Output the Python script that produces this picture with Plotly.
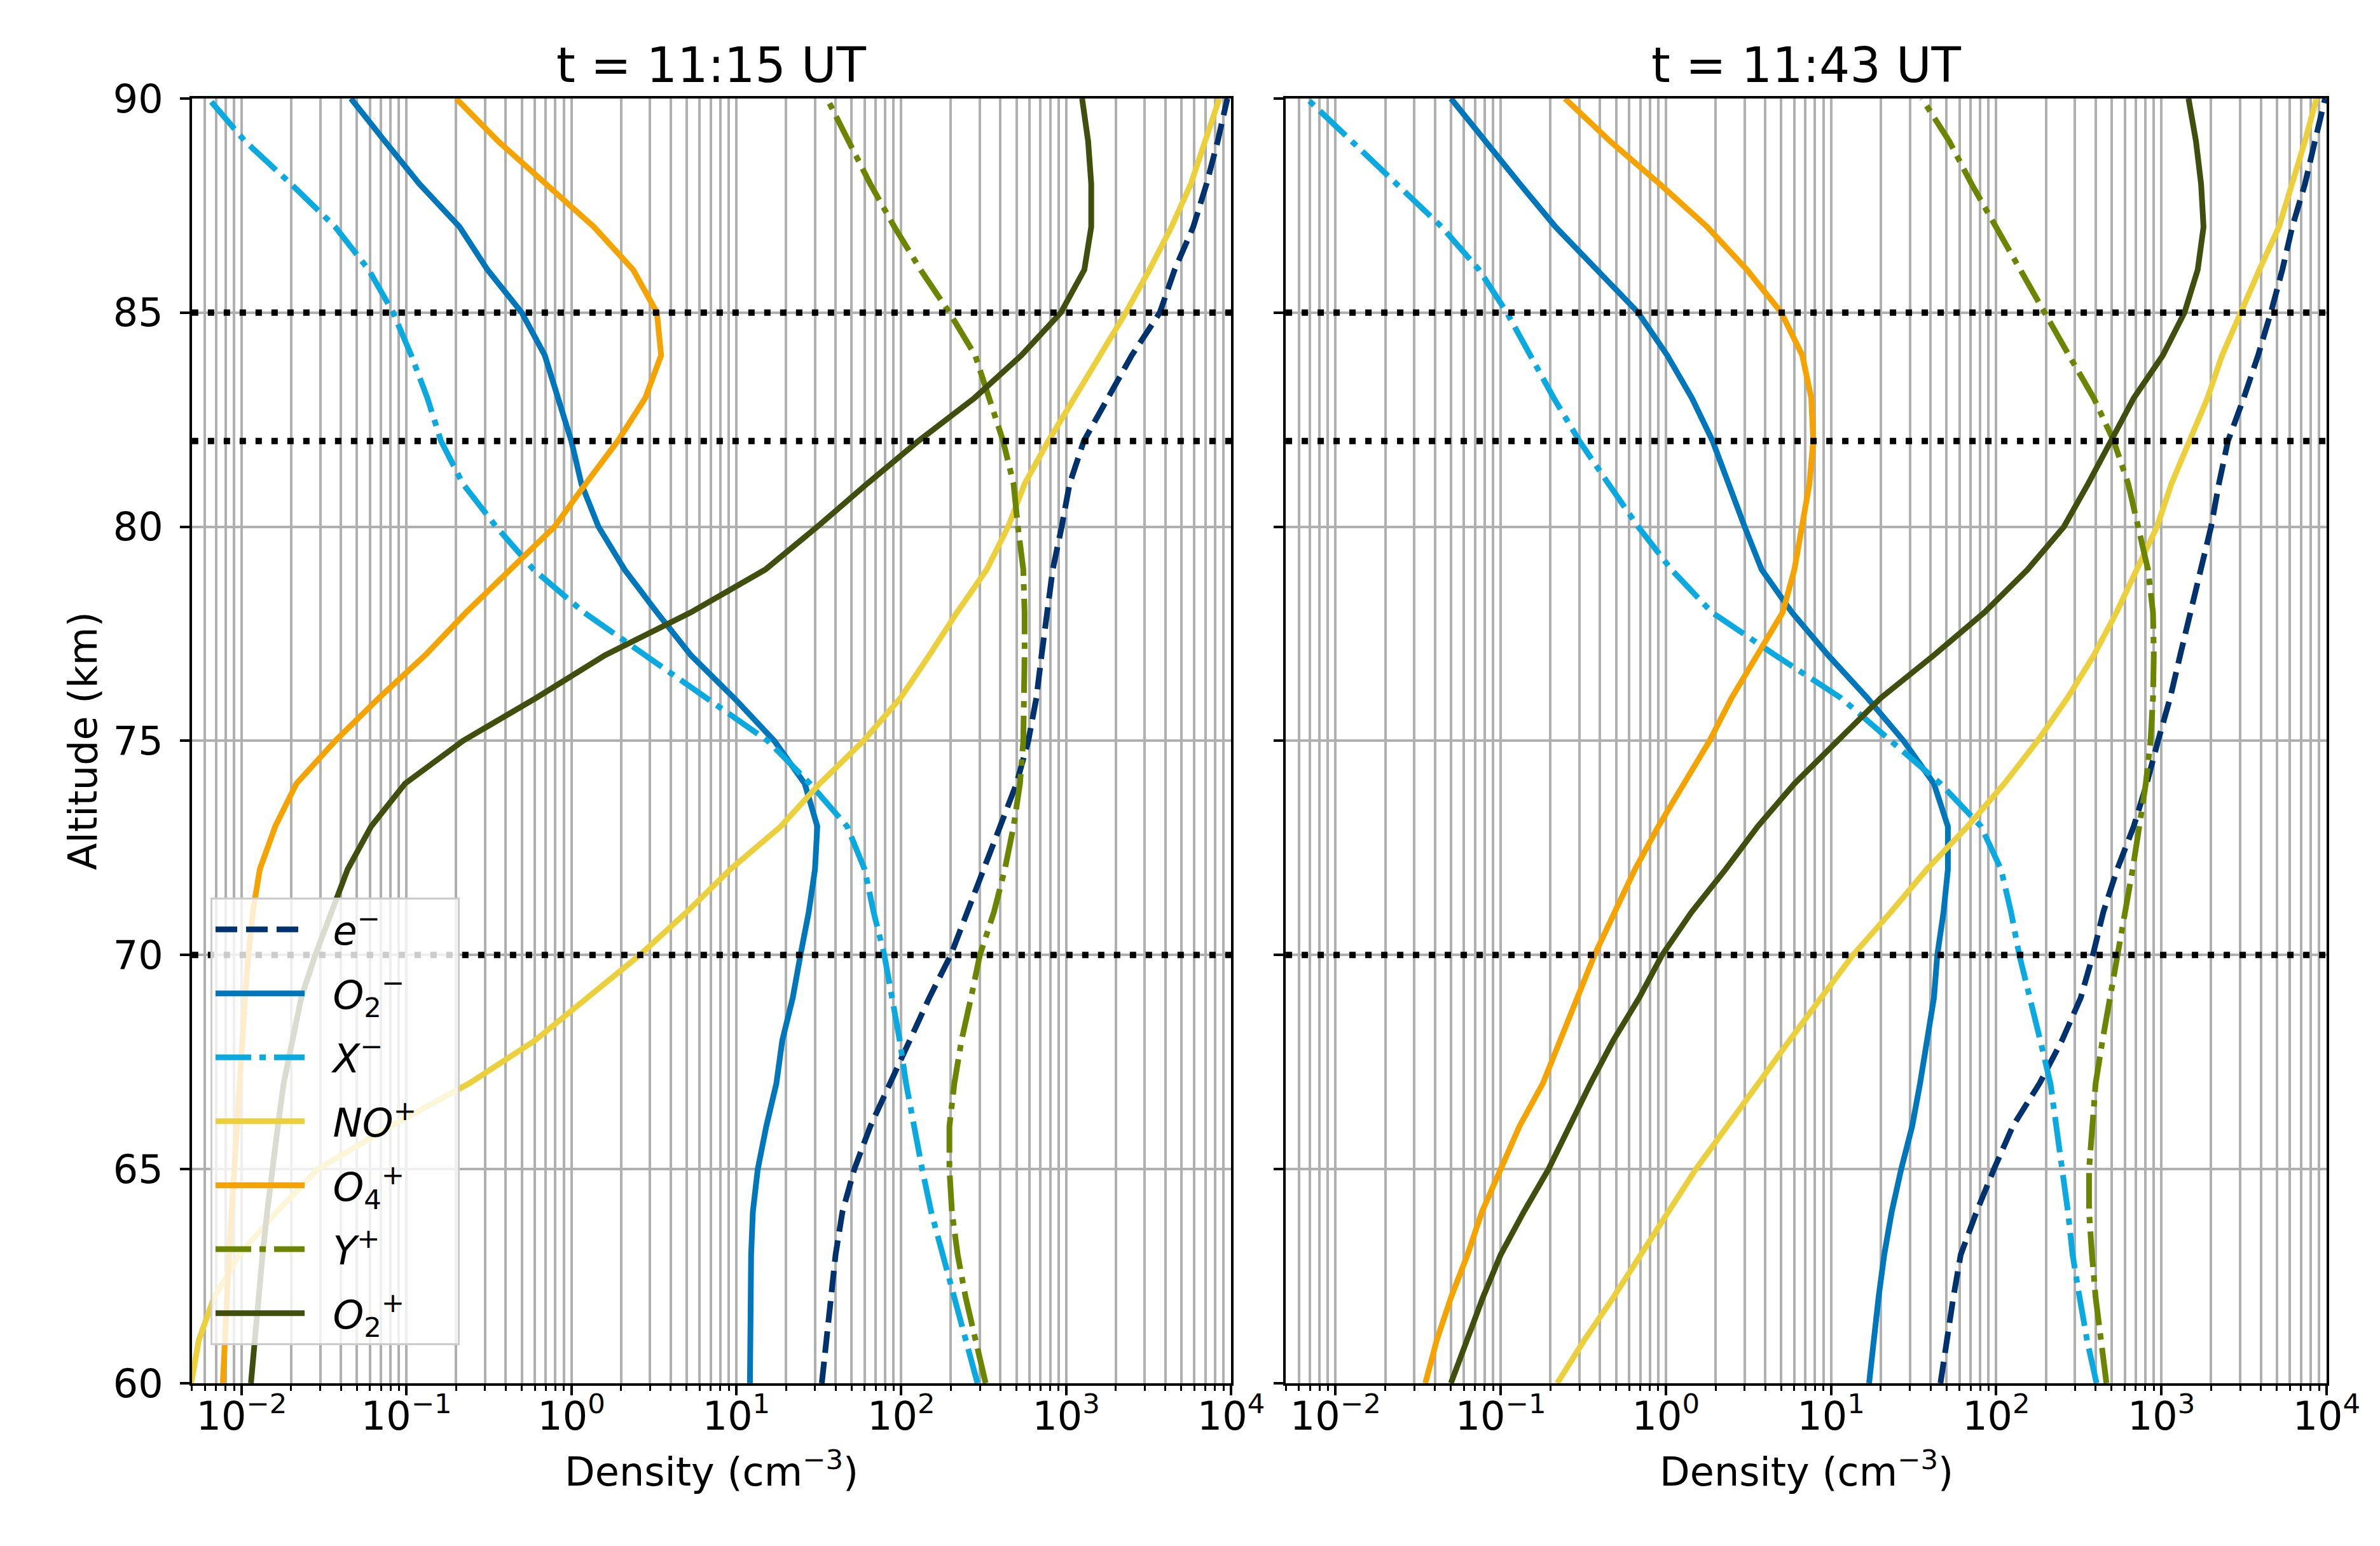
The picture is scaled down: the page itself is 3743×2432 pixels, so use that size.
import plotly.graph_objects as go

# altitude grid (km), 60 -> 90
altitude = list(range(60, 91))

# t = 11:15 UT densities (cm^-3)
e_1115 = [33, 35, 37, 40, 44, 52, 65, 85, 112, 148, 200, 252, 316, 400, 500, 590,
          660, 710, 760, 830, 940, 1050, 1280, 1800, 2500, 3700, 4550, 5900, 7100, 8300, 9500]
o2m_1115 = [12.1, 12.1, 12.2, 12.3, 12.6, 13.5, 15.2, 17.5, 19, 22, 24.5, 27.5, 30, 31, 26, 17,
            9.7, 5.3, 3.3, 2.1, 1.46, 1.15, 1.0, 0.83, 0.69, 0.50, 0.31, 0.21, 0.12, 0.074, 0.046]
xm_1115 = [290, 246, 210, 177, 152, 134, 120, 107, 98, 88, 79, 68, 60, 47, 28, 15.5,
           6.6, 2.74, 1.19, 0.59, 0.35, 0.22, 0.162, 0.134, 0.107, 0.083, 0.059, 0.037, 0.020, 0.0105, 0.0063]
nop_1115 = [0.00495, 0.0055, 0.0068, 0.0097, 0.0163, 0.029, 0.080, 0.24, 0.60, 1.23, 2.6, 5.0, 9.2, 18.6, 32, 59,
            99, 148, 218, 330, 445, 560, 780, 1120, 1600, 2300, 3200, 4350, 5700, 6900, 8500]
o4p_1115 = [0.0077, 0.0079, 0.0081, 0.0084, 0.0087, 0.0090, 0.0093, 0.0097, 0.0101, 0.0105, 0.011, 0.0117,
            0.0129, 0.016, 0.0215, 0.037, 0.068, 0.13, 0.23, 0.43, 0.79, 1.22, 1.91, 2.8, 3.5, 3.3,
            2.37, 1.37, 0.70, 0.36, 0.20]
yp_1115 = [325, 281, 246, 220, 203, 196, 196, 210, 232, 265, 300, 365, 425, 480, 525, 550,
           560, 560, 560, 550, 510, 480, 415, 340, 281, 196, 131, 91, 65, 48, 35.5]
o2p_1115 = [0.0114, 0.0120, 0.0126, 0.0134, 0.0143, 0.0153, 0.0166, 0.018, 0.0203, 0.023, 0.028, 0.035,
            0.044, 0.061, 0.098, 0.22, 0.61, 1.6, 5.3, 15, 31, 62, 127, 277, 535, 930,
            1290, 1420, 1420, 1360, 1250]

# t = 11:43 UT densities (cm^-3)
e_1143 = [46, 50, 55, 61, 76, 97, 126, 183, 250, 325, 385, 445, 540, 680, 815, 955,
          1130, 1300, 1500, 1740, 2000, 2230, 2530, 3150, 3850, 4600, 5400, 6200, 7400, 8500, 9800]
o2m_1143 = [17, 18, 19.4, 21, 23.3, 26.6, 31, 34.6, 38, 42, 44, 48, 51, 51, 42, 27.5,
            16.6, 9.6, 5.8, 3.8, 3.0, 2.4, 1.92, 1.44, 1.02, 0.68, 0.38, 0.215, 0.131, 0.081, 0.050]
xm_1143 = [405, 355, 320, 290, 272, 250, 229, 213, 185, 160, 138, 123, 107, 81, 46, 23,
           11.5, 4.6, 1.9, 1.08, 0.68, 0.45, 0.30, 0.21, 0.153, 0.109, 0.074, 0.044, 0.0235, 0.0126, 0.0067]
nop_1143 = [0.22, 0.32, 0.48, 0.70, 1.03, 1.52, 2.35, 3.6, 5.6, 8.7, 13.6, 23, 38, 67, 112, 178,
            270, 390, 535, 710, 940, 1150, 1490, 1900, 2330, 3000, 3920, 5150, 6200, 7400, 8700]
o4p_1143 = [0.035, 0.041, 0.050, 0.063, 0.077, 0.10, 0.13, 0.18, 0.23, 0.295, 0.37, 0.49, 0.65, 0.90, 1.3, 1.84,
            2.5, 3.6, 5.1, 6.0, 6.7, 7.4, 7.8, 7.6, 6.7, 5.0, 3.1, 1.78, 0.92, 0.46, 0.245]
yp_1143 = [465, 430, 400, 380, 365, 365, 380, 400, 440, 490, 540, 605, 670, 735, 805, 860,
           890, 900, 890, 830, 730, 630, 515, 390, 276, 196, 140, 98, 71, 52, 35.5]
o2p_1143 = [0.050, 0.062, 0.078, 0.10, 0.138, 0.195, 0.26, 0.35, 0.48, 0.69, 0.95, 1.43, 2.3, 3.6, 6.0, 11,
            20, 42, 85, 155, 257, 360, 490, 680, 1020, 1380, 1660, 1800, 1740, 1620, 1460]

panel_titles = ["t = 11:15 UT", "t = 11:43 UT"]
ref_altitudes = [85, 82, 70]

species = [
    ("<i>e</i><sup>−</sup>", "#00336E", "34px,14px"),
    ("<i>O</i><sub>2</sub><sup>−</sup>", "#0077BB", "solid"),
    ("<i>X</i><sup>−</sup>", "#0AAAE0", "56px,13px,10px,13px"),
    ("<i>NO</i><sup>+</sup>", "#EBD03C", "solid"),
    ("<i>O</i><sub>4</sub><sup>+</sup>", "#F5A300", "solid"),
    ("<i>Y</i><sup>+</sup>", "#6B8500", "56px,13px,10px,13px"),
    ("<i>O</i><sub>2</sub><sup>+</sup>", "#404F0E", "solid"),
]
panels = [
    [e_1115, o2m_1115, xm_1115, nop_1115, o4p_1115, yp_1115, o2p_1115],
    [e_1143, o2m_1143, xm_1143, nop_1143, o4p_1143, yp_1143, o2p_1143],
]

FONT = "DejaVu Sans"
LW = 9
NB = "\u00a0"

fig = go.Figure()
for p, series in enumerate(panels):
    xa = "x" if p == 0 else "x2"
    ya = "y" if p == 0 else "y2"
    for (name, color, dash), vals in zip(species, series):
        fig.add_trace(go.Scatter(
            x=vals, y=altitude, mode="lines", name=NB * 2 + name + NB * 3,
            line=dict(color=color, width=LW, dash=dash),
            xaxis=xa, yaxis=ya, showlegend=(p == 0), legendgroup=name,
        ))

# horizontal dotted reference lines
for p in range(2):
    xref = "x domain" if p == 0 else "x2 domain"
    yref = "y" if p == 0 else "y2"
    for alt in ref_altitudes:
        fig.add_shape(type="line", xref=xref, yref=yref, x0=0, x1=1, y0=alt, y1=alt,
                      line=dict(color="black", width=10, dash="10px,15px"))

major = [1e-2, 1e-1, 1e0, 1e1, 1e2, 1e3, 1e4]
major_text = ["10<sup>−2</sup>", "10<sup>−1</sup>", "10<sup>0</sup>", "10<sup>1</sup>",
              "10<sup>2</sup>", "10<sup>3</sup>", "10<sup>4</sup>"]
minor = [m * 10.0 ** e for e in range(-3, 4) for m in range(2, 10) if m * 10.0 ** e >= 5e-3]

grid_col = "#b0b0b0"
xaxis_common = dict(
    type="log", range=[-2.30103, 4], tickvals=major, ticktext=major_text,
    showgrid=True, gridcolor=grid_col, gridwidth=3.5,
    showline=True, linecolor="black", linewidth=3.5, mirror=True,
    ticks="outside", ticklen=15, tickwidth=3.5, tickcolor="black",
    minor=dict(tickvals=minor, ticks="outside", ticklen=8, tickwidth=2.5, tickcolor="black",
               showgrid=True, gridcolor=grid_col, gridwidth=3.5),
    tickfont=dict(size=62, family=FONT, color="black"), ticklabelstandoff=-20,
    zeroline=False, automargin=False,
)
yaxis_common = dict(
    range=[60, 90], tickvals=[60, 65, 70, 75, 80, 85, 90],
    showgrid=True, gridcolor=grid_col, gridwidth=3.5,
    showline=True, linecolor="black", linewidth=3.5, mirror=True,
    ticks="outside", ticklen=15, tickwidth=3.5, tickcolor="black",
    tickfont=dict(size=62, family=FONT, color="black"), ticklabelstandoff=14,
    zeroline=False, automargin=False,
)

fig.update_layout(
    width=3743, height=2432, autosize=False,
    margin=dict(l=0, r=0, t=0, b=0),
    paper_bgcolor="white", plot_bgcolor="white",
    font=dict(family=FONT, size=62, color="black"),
    xaxis=dict(domain=[0.0785, 0.5151], anchor="y", **xaxis_common),
    xaxis2=dict(domain=[0.5381, 0.9754], anchor="y2", **xaxis_common),
    yaxis=dict(domain=[0.1086, 0.9396], anchor="x",
               title=dict(text="Altitude (km)", font=dict(size=62, family=FONT, color="black"), standoff=6),
               **yaxis_common),
    yaxis2=dict(domain=[0.1086, 0.9396], anchor="x2", showticklabels=False, **yaxis_common),
    legend=dict(
        x=0.0863, y=0.4226, xanchor="left", yanchor="top",
        bgcolor="rgba(255,255,255,0.8)", bordercolor="#cccccc", borderwidth=3,
        font=dict(size=62, family=FONT, color="black"),
        itemwidth=140, tracegroupgap=17,
    ),
)

for title, xc in zip(panel_titles, [0.2968, 0.7568]):
    fig.add_annotation(text=title, x=xc, y=0.961, xref="paper", yref="paper",
                       xanchor="center", yanchor="middle", showarrow=False,
                       font=dict(size=76, family=FONT, color="black"))
    fig.add_annotation(text="Density (cm<sup>−3</sup>)", x=xc, y=0.053, xref="paper", yref="paper",
                       xanchor="center", yanchor="middle", showarrow=False,
                       font=dict(size=62, family=FONT, color="black"))

fig.write_html("out.html")
